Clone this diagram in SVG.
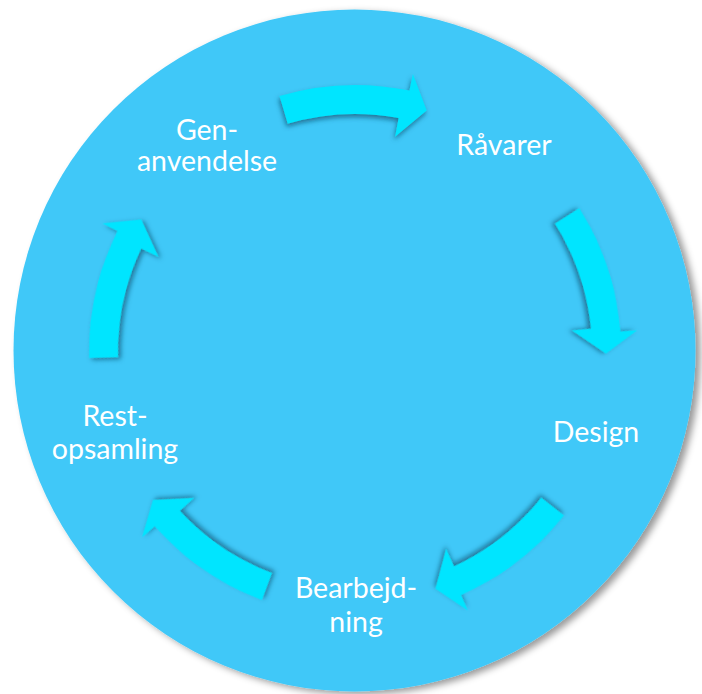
<svg xmlns="http://www.w3.org/2000/svg" width="702" height="694" viewBox="0 0 702 694">
  <defs>
    <filter id="circleShadow" x="-10%" y="-10%" width="125%" height="125%">
      <feDropShadow dx="5" dy="3" stdDeviation="3.5" flood-color="#000000" flood-opacity="0.4"/>
    </filter>
    <filter id="arrowShadow" x="-20%" y="-20%" width="140%" height="140%">
      <feDropShadow dx="-1" dy="3" stdDeviation="2.5" flood-color="#0b4f6e" flood-opacity="0.7"/>
    </filter>
    <path id="arrow" d="M279.5,96 A266,266 0 0,1 409.4,90.6 L412.9,74 L426.7,110.5 L395.1,136.7 L398.6,118.1 A237,237 0 0,0 287.7,123.8 Z"/>
  </defs>
  <style>
    .arrow { fill: #00e5ff; filter: url(#arrowShadow); }
    .label { font-family: Lato, "Open Sans", "Liberation Sans", sans-serif; font-size: 28.5px; fill: #ffffff; text-anchor: middle; }
  </style>
  <rect width="702" height="694" fill="#ffffff"/>
  <circle id="background" cx="354.5" cy="350.5" r="341" fill="#40c8f8" filter="url(#circleShadow)"/>
  <g id="connectors">
    <use href="#arrow" class="arrow"/>
    <use href="#arrow" class="arrow" transform="rotate(74 355 351)"/>
    <use href="#arrow" class="arrow" transform="rotate(144.7 355 351)"/>
    <use href="#arrow" class="arrow" transform="rotate(217 355 351)"/>
    <use href="#arrow" class="arrow" transform="rotate(285 355 351)"/>
  </g>
  <g id="node-raavarer">
    <text class="label" x="504" y="155">Råvarer</text>
  </g>
  <g id="node-design">
    <text class="label" x="596" y="442">Design</text>
  </g>
  <g id="node-bearbejdning">
    <text class="label" x="356" y="598">Bearbejd-</text>
    <text class="label" x="356" y="632">ning</text>
  </g>
  <g id="node-restopsamling">
    <text class="label" x="115" y="426">Rest-</text>
    <text class="label" x="115" y="459">opsamling</text>
  </g>
  <g id="node-genanvendelse">
    <text class="label" x="207" y="140">Gen-</text>
    <text class="label" x="207" y="171">anvendelse</text>
  </g>
</svg>
